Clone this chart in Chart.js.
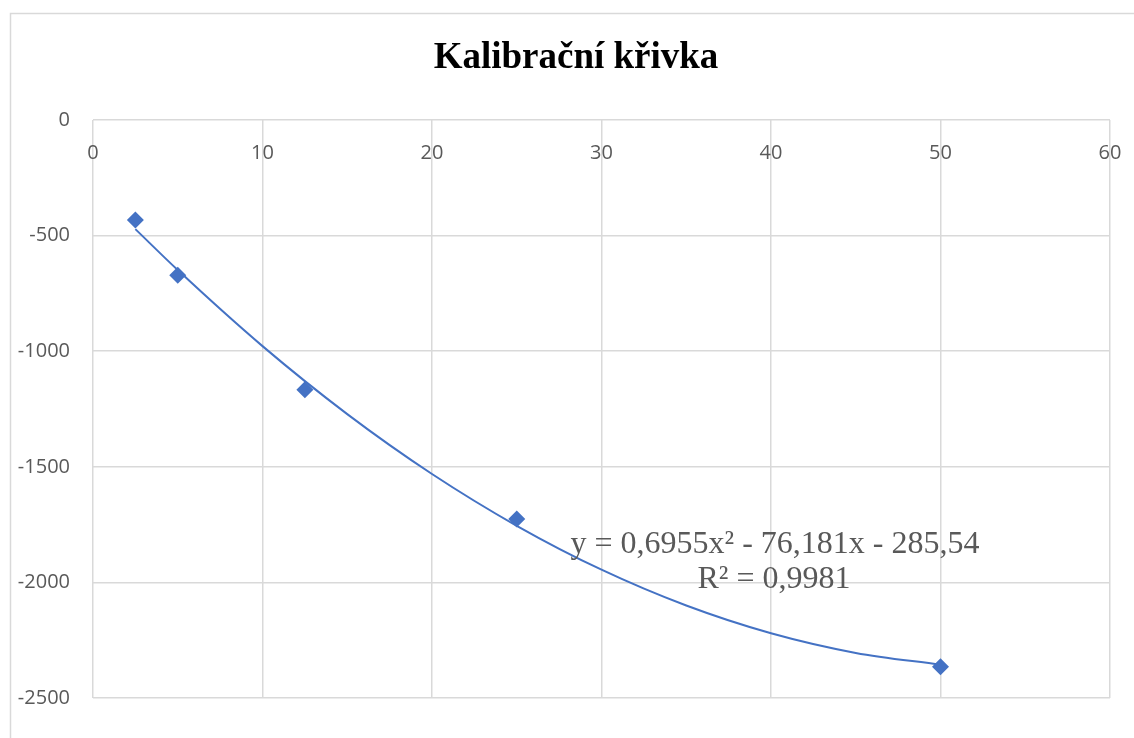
<!DOCTYPE html>
<html>
<head>
<meta charset="utf-8">
<script src="https://cdn.jsdelivr.net/npm/chart.js@4/dist/chart.umd.min.js"></script>
<style>
  html, body { margin: 0; padding: 0; background: #ffffff; }
  #wrap { width: 1134px; height: 738px; position: relative; }
</style>
</head>
<body>
<div id="wrap"><canvas id="c" width="1134" height="738"></canvas></div>
<script>
// ---- data ----
const titleText = 'Kalibrační křivka';
const concX = [2.5, 5, 12.5, 25, 50];
const signalY = [-433, -672, -1167, -1726, -2365];
// trendline at sample x positions
const trendX = [2.5, 5, 10, 15, 20, 25, 30, 35, 40, 45, 50];
const trendY = [-472, -649, -978, -1272, -1531, -1755, -1945, -2100, -2220, -2305, -2356];
const equationLines = ['y = 0,6955x² - 76,181x - 285,54', 'R² = 0,9981'];
const xTicks = [0, 10, 20, 30, 40, 50, 60];
const yTicks = [0, -500, -1000, -1500, -2000, -2500];

const BLUE = '#4472C4';
const GRID = '#d9d9d9';
const TXT = '#595959';

const decor = {
  id: 'decor',
  beforeDraw(chart) {
    const ctx = chart.ctx;
    ctx.save();
    ctx.strokeStyle = GRID;
    ctx.lineWidth = 1.5;
    ctx.strokeRect(10.5, 13.5, 1200, 800);
    ctx.restore();
  },
  afterDraw(chart) {
    const ctx = chart.ctx;
    ctx.save();
    ctx.fillStyle = '#000000';
    ctx.font = 'bold 37px "Liberation Serif", "Times New Roman", serif';
    ctx.textAlign = 'center';
    ctx.textBaseline = 'alphabetic';
    ctx.fillText(titleText, 576, 68);
    ctx.fillStyle = TXT;
    ctx.font = '32px "Liberation Serif", "Times New Roman", serif';
    ctx.fillText(equationLines[0], 775, 553);
    ctx.fillText(equationLines[1], 774, 588);
    ctx.restore();
  }
};

const pts = concX.map((x, i) => ({x, y: signalY[i]}));
const trend = trendX.map((x, i) => ({x, y: trendY[i]}));

new Chart(document.getElementById('c'), {
  type: 'scatter',
  data: {
    datasets: [
      {
        label: 'trend',
        data: trend,
        showLine: true,
        borderColor: BLUE,
        borderWidth: 2,
        pointRadius: 0,
        cubicInterpolationMode: 'monotone',
        fill: false,
        order: 2
      },
      {
        label: 'data',
        data: pts,
        pointStyle: 'rectRot',
        pointRadius: 8.5,
        pointBackgroundColor: BLUE,
        pointBorderColor: BLUE,
        pointBorderWidth: 0,
        order: 1
      }
    ]
  },
  plugins: [decor],
  options: {
    responsive: false,
    animation: false,
    layout: { padding: { left: 10, right: 24, top: 120, bottom: 40 } },
    plugins: {
      legend: { display: false },
      title: { display: false },
      tooltip: { enabled: false }
    },
    scales: {
      x: {
        type: 'linear',
        position: { y: 0 },
        min: 0, max: 60,
        afterBuildTicks: s => { s.ticks = xTicks.map(v => ({value: v})); },
        afterFit: s => { s.paddingLeft = 0; s.paddingRight = 0; },
        grid: { color: GRID, lineWidth: 1.5, drawTicks: false },
        border: { display: false },
        ticks: {
          color: TXT,
          padding: 21,
          maxRotation: 0,
          font: { family: '"Open Sans", sans-serif', size: 20 },
          callback: v => String(v)
        }
      },
      y: {
        type: 'linear',
        position: 'left',
        min: -2500, max: 0,
        afterBuildTicks: s => { s.ticks = yTicks.map(v => ({value: v})); },
        afterFit: s => { s.width = 83; },
        grid: { color: GRID, lineWidth: 1.5, drawTicks: false },
        border: { display: false },
        ticks: {
          color: TXT,
          padding: 23,
          font: { family: '"Open Sans", sans-serif', size: 20 },
          callback: v => String(v)
        }
      }
    }
  }
});
</script>
</body>
</html>
